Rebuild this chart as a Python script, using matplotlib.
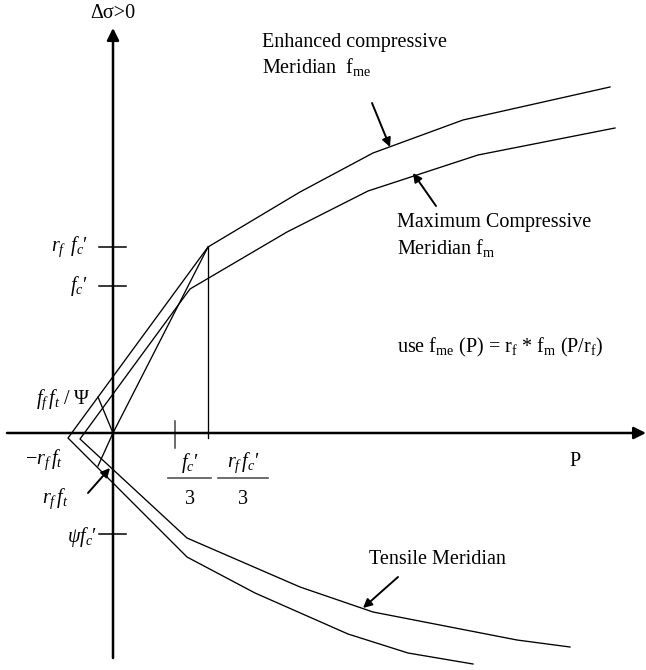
import matplotlib
matplotlib.use("Agg")
import matplotlib.pyplot as plt

plt.rcParams['font.family'] = ['Liberation Serif', 'DejaVu Serif']
plt.rcParams['mathtext.fontset'] = 'custom'
plt.rcParams['mathtext.rm'] = 'Liberation Serif'
plt.rcParams['mathtext.it'] = 'Liberation Serif:italic'
plt.rcParams['mathtext.bf'] = 'Liberation Serif:bold'

# schematic meridians, P (hydrostatic) vs delta sigma, arbitrary units
enh_comp_P = [95, 187, 260, 350, 497]
enh_comp_q = [186, 241, 280, 313, 346]
max_comp_P = [77, 174, 255, 365, 502]
max_comp_q = [144, 201, 242, 278, 305]
enh_tens_P = [74, 142, 235, 295, 360]
enh_tens_q = [-124, -160, -201, -220, -231]
max_tens_P = [74, 187, 260, 404, 457]
max_tens_q = [-105, -154, -179, -207, -214]

# apex points on the tension side (-r_f f_t and the unenhanced one)
enh_vertex = (-45, -5)
max_vertex = (-33, -6)

# key levels
rf_fc = 186
fc = 147
psi_fc = -101
fc_3 = 62
rf_fc_3 = 95

FS = 14.5
PR = "\u2032"  # prime

fig = plt.figure(figsize=(6.46, 6.70), dpi=100)
ax = fig.add_axes([0, 0, 1, 1])
ax.set_xlim(-113, 533)
ax.set_ylim(-237, 433)
ax.axis('off')

lw = 0.95
# enhanced meridian: tensile (reversed) -> vertex -> apex -> compressive
ep = enh_tens_P[::-1] + [enh_vertex[0]] + enh_comp_P
eq = enh_tens_q[::-1] + [enh_vertex[1]] + enh_comp_q
ax.plot(ep, eq, color='black', lw=lw)
mp = max_tens_P[::-1] + [max_vertex[0]] + max_comp_P
mq = max_tens_q[::-1] + [max_vertex[1]] + max_comp_q
ax.plot(mp, mq, color='black', lw=lw)

# construction lines
ax.plot([enh_comp_P[0], 0], [enh_comp_q[0], 0], color='black', lw=lw)
ax.plot([rf_fc_3, rf_fc_3], [rf_fc, -5], color='black', lw=lw)
ax.plot([-15, 0], [36, 0], color='black', lw=lw)
ax.plot([0, -15], [0, -33], color='black', lw=lw)

# axes with arrows
ax.annotate('', xy=(0, 405), xytext=(0, -225), annotation_clip=False,
            arrowprops=dict(arrowstyle='-|>', color='black', lw=1.8,
                            mutation_scale=18, shrinkA=0, shrinkB=0))
ax.annotate('', xy=(533, 0), xytext=(-106, 0), annotation_clip=False,
            arrowprops=dict(arrowstyle='-|>', color='black', lw=1.8,
                            mutation_scale=18, shrinkA=0, shrinkB=0))

# ticks
for lev in [rf_fc, fc, psi_fc]:
    ax.plot([-14, 13], [lev, lev], color='black', lw=1.1)
ax.plot([fc_3, fc_3], [12, -15], color='#444444', lw=1.1)

# tick labels
ax.text(-25, rf_fc, r"$r_f\ \, f_c$" + PR, ha='right', va='center', fontsize=FS)
ax.text(-25, fc, r"$f_c$" + PR, ha='right', va='center', fontsize=FS)
ax.text(-22, 33, r"$f_f\,f_t\ /\ \mathrm{\Psi}$", ha='right', va='center', fontsize=FS)
ax.text(-50, -27, r"$-r_f\,f_t$", ha='right', va='center', fontsize=FS)
ax.text(-45, -66, r"$r_f\,f_t$", ha='right', va='center', fontsize=FS)
ax.text(-16, -104, r"$\psi f_c$" + PR, ha='right', va='center', fontsize=FS)

ax.text(77, -30, r"$f_c$" + PR, ha='center', va='center', fontsize=FS)
ax.plot([55, 98], [-45, -45], color='#555555', lw=1.2)
ax.text(77, -67, "3", ha='center', va='center', fontsize=FS)
ax.text(130, -30, r"$r_f\,f_c$" + PR, ha='center', va='center', fontsize=FS)
ax.plot([105, 155], [-45, -45], color='#555555', lw=1.2)
ax.text(130, -67, "3", ha='center', va='center', fontsize=FS)

ax.text(462, -28, "P", ha='center', va='center', fontsize=FS)
ax.text(0, 420, "Δσ>0", ha='center', va='center', fontsize=FS)

# annotations
ax.text(149, 391, "Enhanced compressive", ha='left', va='center', fontsize=FS)
ax.text(149, 366, r"Meridian  f$_{\mathrm{me}}$", ha='left', va='center', fontsize=FS)
ax.text(284, 211, "Maximum Compressive", ha='left', va='center', fontsize=FS)
ax.text(284, 185, r"Meridian f$_{\mathrm{m}}$", ha='left', va='center', fontsize=FS)
ax.text(284, 86, r"use f$_{\mathrm{me}}$ (P) = r$_{\mathrm{f}}$ * f$_{\mathrm{m}}$ (P/r$_{\mathrm{f}}$)",
        ha='left', va='center', fontsize=FS)
ax.text(256, -127, "Tensile Meridian", ha='left', va='center', fontsize=FS)

arr = dict(arrowstyle='-|>', color='black', lw=1.4, mutation_scale=13,
           shrinkA=0, shrinkB=0)
ax.annotate('', xy=(277, 286), xytext=(259, 330), arrowprops=arr)
ax.annotate('', xy=(300, 260), xytext=(323, 227), arrowprops=arr)
ax.annotate('', xy=(250, -175), xytext=(285, -144), arrowprops=arr)
ax.annotate('', xy=(-3, -35), xytext=(-25, -60), arrowprops=arr)

fig.savefig('out.png', dpi=100, facecolor='white')
